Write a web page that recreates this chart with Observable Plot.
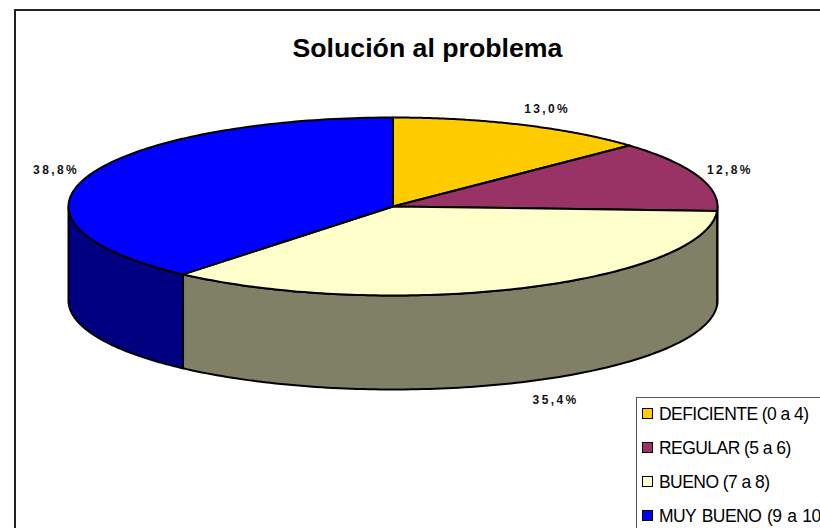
<!DOCTYPE html>
<html><head><meta charset="utf-8">
<script src="https://cdn.jsdelivr.net/npm/d3@7"></script>
<script src="https://cdn.jsdelivr.net/npm/@observablehq/plot@0.6"></script>
<style>
html,body{margin:0;padding:0;background:#fff;width:820px;height:528px;overflow:hidden;font-family:"Liberation Sans",Arial,sans-serif}
#chart{position:absolute;left:0;top:0;width:820px;height:528px}
#frame{position:absolute;left:14px;top:9px;width:900px;height:600px;border:2px solid #222;box-sizing:border-box;pointer-events:none}
#title{position:absolute;left:292.5px;top:32.5px;white-space:pre;font-weight:bold;font-size:26.7px;line-height:30px;color:#000}
#legend{position:absolute;left:636px;top:397px;width:300px;height:200px;background:#fff;border:1px solid #555;box-sizing:border-box}
.row{position:absolute;left:5px;display:flex;align-items:center;font-size:17.5px;letter-spacing:-.55px;white-space:pre;color:#000;line-height:20px}
.sw{width:9px;height:9px;border:1.5px solid #000;margin-right:6px;flex:none}
</style></head><body>
<div id="chart"></div><div id="frame"></div>
<div id="title">Solución al problema</div>
<div id="legend"></div>
<script>
const categories = ["DEFICIENTE (0 a 4)", "REGULAR (5 a 6)", "BUENO (7 a 8)", "MUY BUENO (9 a 10)"];
const values = [13.0, 12.8, 35.4, 38.8];
const labels = ["13,0%", "12,8%", "35,4%", "38,8%"];
const topColors = ["#FFCC00", "#993366", "#FFFFCC", "#0000FF"];
const sideColors = ["#806600", "#4D1933", "#808066", "#000080"];

const depth = 1.056; // rim height, in units of the vertical radius
const total = d3.sum(values);
const turn = v => v / total * 2 * Math.PI;
let acc = 0;
const slices = values.map((v, i) => {
  const a0 = turn(acc); acc += v; const a1 = turn(acc);
  return {i, a0, a1, mid: (a0 + a1) / 2};
});
const arc = (a0, a1) => d3.range(0, 121).map(k => a0 + (a1 - a0) * k / 120);
const topPts = slices.flatMap(s => [
  {k: s.i, x: 0, y: 0},
  ...arc(s.a0, s.a1).map(t => ({k: s.i, x: Math.sin(t), y: Math.cos(t)})),
  {k: s.i, x: 0, y: 0}
]);
const sidePts = slices.flatMap(s => {
  const lo = Math.max(s.a0, Math.PI / 2), hi = Math.min(s.a1, 3 * Math.PI / 2);
  if (hi <= lo) return [];
  const a = arc(lo, hi);
  return [
    ...a.map(t => ({k: s.i, x: Math.sin(t), y: Math.cos(t)})),
    ...a.reverse().map(t => ({k: s.i, x: Math.sin(t), y: Math.cos(t) - depth}))
  ].concat([{k: s.i, x: Math.sin(lo), y: Math.cos(lo)}]);
});
const labelPts = slices.map(s => {
  const sx = Math.sin(s.mid), cy = Math.cos(s.mid);
  const front = cy < 0 && Math.abs(sx) < 0.7;
  return {
    x: sx * 1.04 + Math.sign(sx) * 0.062 + (front ? 0.026 : 0),
    y: cy * 1.19 - (front ? depth + 0.03 : 0),
    text: labels[s.i]
  };
});

const plot = Plot.plot({
  width: 820, height: 528, margin: 0,
  x: {domain: [-1, 1], range: [68, 717], axis: null},
  y: {domain: [-1, 1], range: [295, 117], axis: null},
  marks: [
    Plot.line(sidePts, {x: "x", y: "y", z: "k", curve: "linear",
      fill: d => sideColors[d.k], stroke: "#000", strokeWidth: 2, strokeLinejoin: "round"}),
    Plot.line(topPts, {x: "x", y: "y", z: "k", curve: "linear",
      fill: d => topColors[d.k], stroke: "#000", strokeWidth: 2, strokeLinejoin: "round"}),
    Plot.text(labelPts, {x: "x", y: "y", text: "text", fontFamily: "Liberation Sans, Arial, sans-serif",
      fontWeight: "bold", fontSize: 12, fill: "#111"})
  ]
});
plot.querySelectorAll("text").forEach(t => t.style.letterSpacing = "2.4px");
document.getElementById("chart").appendChild(plot);

const legend = document.getElementById("legend");
categories.forEach((c, i) => {
  const r = document.createElement("div");
  r.className = "row";
  r.style.top = (5.5 + i * 34) + "px";
  if (i === 3) r.style.wordSpacing = "1.5px";
  r.innerHTML = `<span class="sw" style="background:${topColors[i]}"></span>${c}`;
  legend.appendChild(r);
});
</script>
</body></html>
